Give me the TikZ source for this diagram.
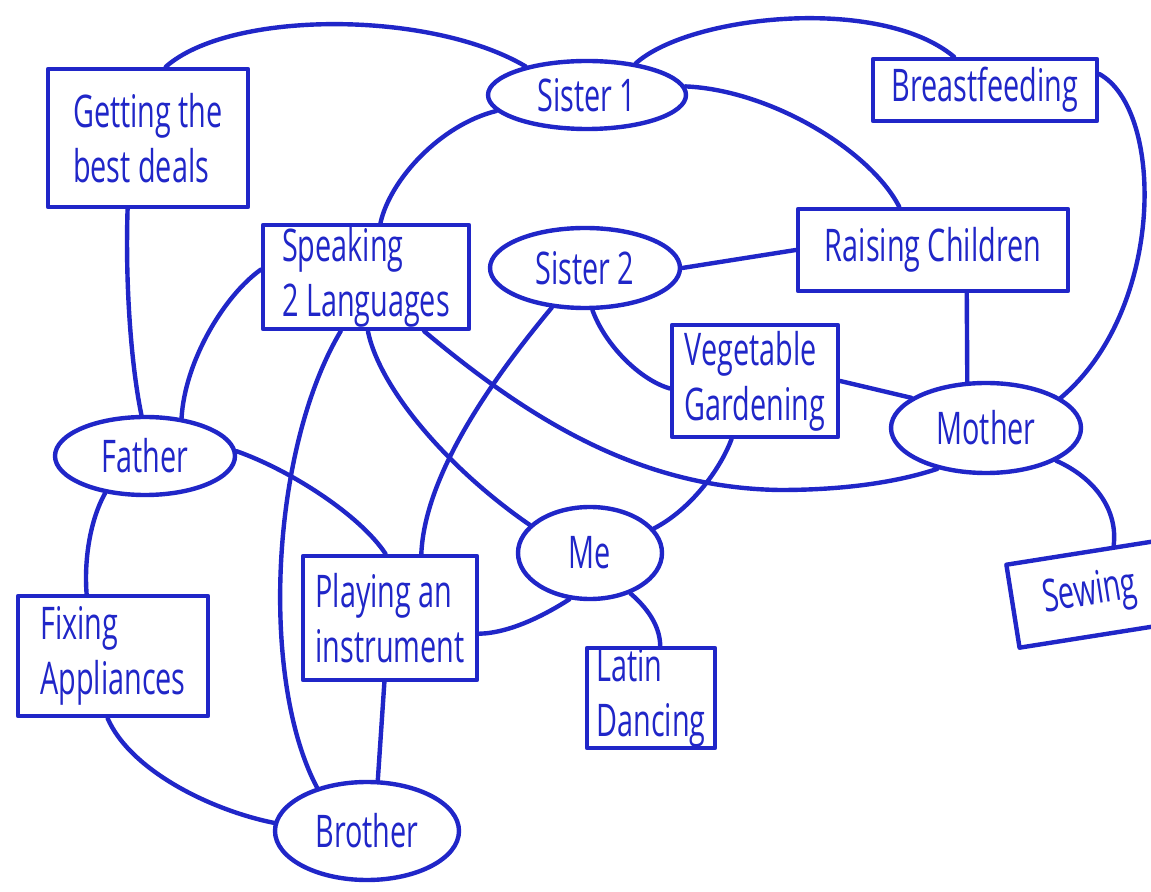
\documentclass[tikz,border=0pt]{standalone}
\usepackage{fontspec}
\setmainfont{Open Sans}[FakeStretch=0.64]
\usetikzlibrary{shapes.geometric}
\definecolor{ink}{RGB}{32,38,200}
\begin{document}
\begin{tikzpicture}[x=0.5pt,y=-0.5pt,
  line width=2.2pt, line cap=round, line join=round, draw=ink,
  every node/.style={text=ink, font=\fontsize{22.5}{27.5}\selectfont, align=left},
  box/.style={draw=ink, rectangle, inner sep=0pt},
  oval/.style={draw=ink, ellipse, inner sep=0pt}]
\fill[white] (0,0) rectangle (1151,892);
\useasboundingbox (0,0) rectangle (1151,892);

\node[oval, minimum width=99pt, minimum height=34pt] (sis1) at (587,95) {Sister 1};
\node[box, minimum width=112pt, minimum height=31pt] (breast) at (985,90) {Breastfeeding};
\node[box, minimum width=100pt, minimum height=69pt] (deals) at (148,138) {Getting the\\best deals};
\node[box, minimum width=103pt, minimum height=52pt] (speak) at (366,277) {Speaking\\2 Languages};
\node[oval, minimum width=95pt, minimum height=40pt] (sis2) at (585,268) {Sister 2};
\node[box, minimum width=135pt, minimum height=41pt] (raise) at (933,250) {Raising Children};
\node[box, minimum width=83pt, minimum height=56pt] (veg) at (755,381) {Vegetable\\Gardening};
\node[oval, minimum width=95pt, minimum height=45pt] (mother) at (986,428) {Mother};
\node[oval, minimum width=90pt, minimum height=39pt] (father) at (145,456) {Father};
\node[oval, minimum width=72pt, minimum height=46pt] (me) at (590,553) {Me};
\node[box, minimum width=87pt, minimum height=62pt] (play) at (390,618) {Playing an\\instrument};
\node[box, minimum width=95pt, minimum height=60pt] (fix) at (113,656) {Fixing\\Appliances};
\node[box, minimum width=64pt, minimum height=50pt] (latin) at (651,698) {Latin\\Dancing};
\node[oval, minimum width=92pt, minimum height=49pt] (brother) at (367,831) {Brother};
\node[box, rotate=9, minimum width=78pt, minimum height=42pt] (sew) at (1090,594) {Sewing};

\draw (deals.76) .. controls (230,10) and (430,10) .. (sis1.155);
\draw (sis1.33) .. controls (690,15) and (880,-5) .. (breast.133);
\draw (sis1.190) .. controls (440,125) and (390,180) .. (speak.75);
\draw (sis1.5) .. controls (770,90) and (870,150) .. (raise.128);
\draw (sis2.east) -- (raise.west);
\draw (sis2.-80) .. controls (605,345) and (640,380) .. (veg.185);
\draw (sis2.-130) .. controls (500,370) and (425,470) .. (play.64);
\draw (raise.-52) -- (mother.112);
\draw (breast.8) .. controls (1165,110) and (1165,310) .. (mother.22);
\draw (veg.east) -- (mother.158);
\draw (veg.-112) .. controls (720,470) and (690,510) .. (me.21);
\draw (speak.-43) .. controls (530,420) and (640,488) .. (780,490) .. controls (860,490) and (910,478) .. (mother.-140);
\draw (speak.-88) .. controls (380,390) and (450,470) .. (me.155);
\draw (speak.176) .. controls (225,295) and (185,360) .. (father.46);
\draw (speak.-115) .. controls (270,450) and (260,680) .. (brother.139);
\draw (deals.-106) .. controls (125,290) and (132,370) .. (father.95);
\draw (father.3) .. controls (290,470) and (360,515) .. (play.94);
\draw (father.-137) .. controls (90,520) and (84,560) .. (fix.113);
\draw (fix.-95) .. controls (130,770) and (210,810) .. (brother.175);
\draw (play.-95) -- (brother.78);
\draw (play.-10) .. controls (510,633) and (545,615) .. (me.-114);
\draw (me.-45) .. controls (652,612) and (660,630) .. (latin.80);
\draw (mother.-25) .. controls (1095,478) and (1118,510) .. (sew.55);
\end{tikzpicture}
\end{document}
